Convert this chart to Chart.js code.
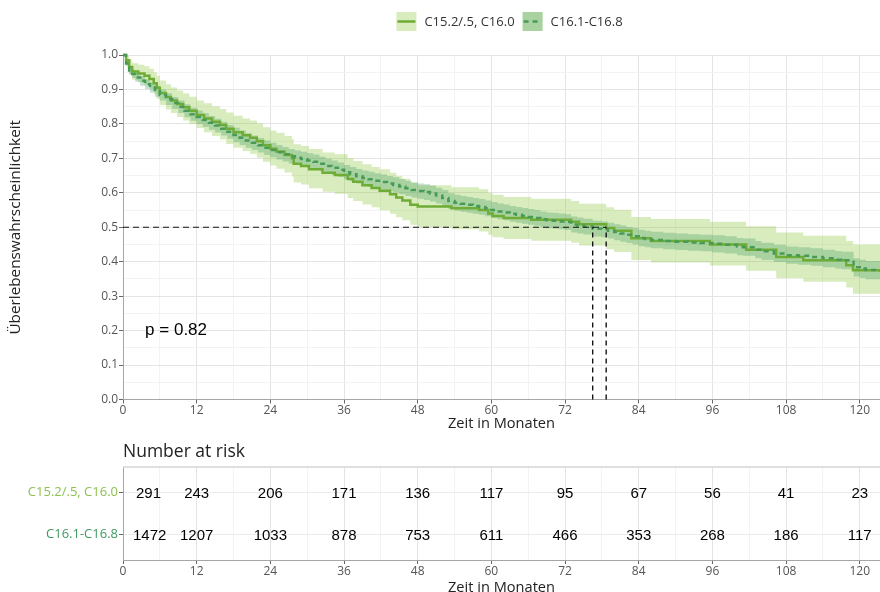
<!DOCTYPE html>
<html>
<head>
<meta charset="utf-8">
<title>Kaplan-Meier</title>
<script src="https://cdn.jsdelivr.net/npm/chart.js@4.4.1/dist/chart.umd.min.js"></script>
<style>
  html, body { margin: 0; padding: 0; background: #ffffff; overflow: hidden; }
  #wrap { position: relative; width: 880px; height: 592px; overflow: hidden; }
  #km { position: absolute; left: 0; top: 0; }
  #risk { position: absolute; left: 0; top: 440px; }
</style>
</head>
<body>
<div id="wrap">
  <canvas id="km" width="880" height="440"></canvas>
  <canvas id="risk" width="880" height="160"></canvas>
</div>
<script>
// ---- data -------------------------------------------------------------
const groupNames = ['C15.2/.5, C16.0', 'C16.1-C16.8'];

// Group A: C15.2/.5, C16.0 (Kaplan-Meier steps with 95% CI)
const timeA = [0, 0.5, 1.0, 1.5, 2.5, 3.5, 4.3, 5.0, 5.5, 6.0, 7.0, 7.8, 8.8, 9.8, 10.8, 12.0, 13.2, 14.5, 15.8, 16.8,
  18.0, 19.5, 20.7, 21.8, 22.8, 24.0, 25.0, 26.3, 27.5, 27.8, 29.0, 30.3, 32.5, 34.5, 36.6, 37.5, 39.0, 40.5, 41.8, 43.5,
  44.5, 45.5, 46.8, 48.0, 53.5, 58.0, 59.5, 60.2, 62.0, 66.5, 73.0, 74.3, 78.7, 80.0, 82.8, 86.0, 95.6, 101.5, 106.4, 110.8,
  117.8, 118.9, 123.3];
const survA = [1.000, 0.985, 0.965, 0.952, 0.946, 0.940, 0.930, 0.918, 0.905, 0.890, 0.878, 0.868, 0.858, 0.848, 0.838, 0.826, 0.816, 0.806, 0.797, 0.786,
  0.776, 0.767, 0.760, 0.750, 0.738, 0.728, 0.720, 0.710, 0.700, 0.684, 0.678, 0.668, 0.658, 0.652, 0.640, 0.632, 0.622, 0.614, 0.606, 0.596,
  0.586, 0.578, 0.565, 0.560, 0.555, 0.550, 0.540, 0.533, 0.527, 0.522, 0.516, 0.509, 0.498, 0.490, 0.468, 0.460, 0.450, 0.435, 0.414, 0.404,
  0.390, 0.375, 0.370];
const upperA = [1.000, 0.998, 0.986, 0.976, 0.972, 0.967, 0.960, 0.950, 0.940, 0.926, 0.915, 0.906, 0.897, 0.888, 0.879, 0.868, 0.860, 0.851, 0.843, 0.833,
  0.824, 0.816, 0.810, 0.801, 0.790, 0.781, 0.774, 0.765, 0.756, 0.741, 0.736, 0.727, 0.717, 0.712, 0.700, 0.692, 0.683, 0.675, 0.668, 0.658,
  0.649, 0.641, 0.629, 0.622, 0.616, 0.610, 0.600, 0.594, 0.588, 0.583, 0.576, 0.568, 0.558, 0.551, 0.530, 0.524, 0.516, 0.503, 0.485, 0.475,
  0.460, 0.450, 0.446];
const lowerA = [1.000, 0.971, 0.944, 0.928, 0.920, 0.913, 0.902, 0.888, 0.872, 0.855, 0.842, 0.832, 0.820, 0.810, 0.800, 0.788, 0.776, 0.765, 0.755, 0.742,
  0.731, 0.721, 0.713, 0.702, 0.690, 0.679, 0.670, 0.659, 0.647, 0.630, 0.624, 0.613, 0.603, 0.597, 0.585, 0.576, 0.566, 0.558, 0.549, 0.539,
  0.529, 0.520, 0.507, 0.500, 0.494, 0.488, 0.478, 0.471, 0.466, 0.461, 0.455, 0.447, 0.436, 0.428, 0.405, 0.398, 0.389, 0.374, 0.352, 0.342,
  0.325, 0.307, 0.302];

// Group B: C16.1-C16.8
const timeB = [0, 0.5, 1.0, 1.5, 2.0, 2.8, 3.6, 4.4, 5.2, 6, 7, 8, 9, 10, 11, 12, 13, 14, 15, 16, 17, 18, 19, 20, 21, 22, 23, 24,
  25, 26, 27, 28, 29, 30, 31, 32, 33, 34, 35, 36, 37, 38, 39, 40, 41, 42, 43, 44, 45, 46, 47, 48, 49, 50, 51, 52, 53, 54,
  55, 56, 57, 58, 59, 60, 61, 62, 63, 64, 65, 66, 67, 68, 69, 70, 71, 72, 73, 74, 75, 76.5, 78, 79, 80, 81, 82, 83, 84,
  85, 86, 88, 90, 92, 94, 96, 98, 100, 101, 103, 104, 106, 108, 110, 112, 114, 116, 117, 119, 120, 121, 123.3];
const survB = [1.000, 0.975, 0.955, 0.945, 0.935, 0.925, 0.915, 0.906, 0.895, 0.884, 0.872, 0.861, 0.850, 0.838, 0.828, 0.820, 0.811, 0.803, 0.795, 0.786,
  0.777, 0.768, 0.760, 0.752, 0.745, 0.738, 0.731, 0.724, 0.718, 0.712, 0.706, 0.702, 0.698, 0.694, 0.690, 0.684, 0.678, 0.673, 0.667, 0.660,
  0.654, 0.648, 0.643, 0.639, 0.635, 0.631, 0.627, 0.623, 0.618, 0.613, 0.608, 0.605, 0.602, 0.598, 0.592, 0.585, 0.576, 0.571, 0.568, 0.565,
  0.562, 0.559, 0.555, 0.550, 0.546, 0.543, 0.539, 0.536, 0.533, 0.530, 0.527, 0.523, 0.520, 0.519, 0.517, 0.515, 0.508, 0.505, 0.502, 0.496,
  0.494, 0.490, 0.486, 0.482, 0.478, 0.474, 0.469, 0.466, 0.463, 0.460, 0.458, 0.456, 0.454, 0.452, 0.449, 0.444, 0.442, 0.435, 0.430, 0.424,
  0.419, 0.417, 0.414, 0.410, 0.406, 0.404, 0.384, 0.380, 0.376, 0.376];
const upperB = [1.000, 0.983, 0.966, 0.957, 0.948, 0.938, 0.929, 0.921, 0.911, 0.900, 0.889, 0.878, 0.868, 0.857, 0.847, 0.839, 0.831, 0.823, 0.815, 0.806,
  0.797, 0.789, 0.781, 0.773, 0.766, 0.759, 0.752, 0.745, 0.739, 0.733, 0.727, 0.723, 0.719, 0.715, 0.711, 0.705, 0.699, 0.694, 0.688, 0.681,
  0.675, 0.669, 0.665, 0.661, 0.657, 0.653, 0.649, 0.645, 0.640, 0.635, 0.630, 0.627, 0.625, 0.621, 0.615, 0.608, 0.599, 0.594, 0.591, 0.588,
  0.585, 0.582, 0.578, 0.573, 0.569, 0.566, 0.562, 0.559, 0.556, 0.553, 0.550, 0.546, 0.543, 0.542, 0.540, 0.538, 0.531, 0.528, 0.525, 0.519,
  0.517, 0.513, 0.509, 0.505, 0.501, 0.498, 0.493, 0.490, 0.487, 0.484, 0.482, 0.480, 0.478, 0.477, 0.474, 0.469, 0.467, 0.460, 0.455, 0.449,
  0.444, 0.442, 0.439, 0.435, 0.431, 0.429, 0.410, 0.406, 0.402, 0.402];
const lowerB = [1.000, 0.967, 0.944, 0.933, 0.922, 0.911, 0.901, 0.891, 0.879, 0.868, 0.855, 0.843, 0.832, 0.819, 0.809, 0.800, 0.791, 0.783, 0.775, 0.766,
  0.757, 0.747, 0.739, 0.731, 0.724, 0.717, 0.710, 0.703, 0.697, 0.691, 0.685, 0.681, 0.677, 0.673, 0.669, 0.663, 0.657, 0.652, 0.646, 0.639,
  0.633, 0.627, 0.621, 0.617, 0.613, 0.609, 0.605, 0.601, 0.596, 0.591, 0.586, 0.583, 0.579, 0.575, 0.569, 0.562, 0.553, 0.548, 0.545, 0.542,
  0.539, 0.536, 0.532, 0.527, 0.523, 0.520, 0.516, 0.513, 0.510, 0.507, 0.504, 0.500, 0.497, 0.496, 0.494, 0.492, 0.485, 0.482, 0.479, 0.473,
  0.471, 0.467, 0.462, 0.458, 0.454, 0.450, 0.445, 0.442, 0.439, 0.436, 0.434, 0.432, 0.430, 0.427, 0.424, 0.419, 0.417, 0.410, 0.405, 0.399,
  0.394, 0.391, 0.388, 0.384, 0.380, 0.378, 0.357, 0.353, 0.349, 0.349];

// Median survival times (months) and log-rank p-value
const medianA = 78.7;
const medianB = 76.5;
const pValueText = 'p = 0.82';

// Number at risk table
const riskTimes = [0, 12, 24, 36, 48, 60, 72, 84, 96, 108, 120];
const riskA = [291, 243, 206, 171, 136, 117, 95, 67, 56, 41, 23];
const riskB = [1472, 1207, 1033, 878, 753, 611, 466, 353, 268, 186, 117];

// Axis texts
const xTitle = 'Zeit in Monaten';
const yTitle = 'Überlebenswahrscheinlichkeit';
const riskTitle = 'Number at risk';

// ---- styling -----------------------------------------------------------
const colA = '#6fac36';
const colB = '#489b57';
const labelColA = '#8cc152';
const labelColB = '#3f9a62';
const bandA = 'rgba(141, 198, 63, 0.34)';
const bandB = 'rgba(58, 150, 95, 0.30)';
const gridMajor = '#e4e4e4';
const gridMinor = '#f3f3f3';
const axisGrey = '#a6a6a6';
const tickGrey = '#666666';
const X_MAX = 123.3;

Chart.defaults.font.family = '"Open Sans", "DejaVu Sans", sans-serif';
Chart.defaults.color = '#555555';

const pts = (xs, ys) => xs.map((t, i) => ({ x: t, y: ys[i] }));
const isMajorX = v => Math.abs(v % 12) < 1e-6;
const isMajorY = v => Math.abs(v * 10 - Math.round(v * 10)) < 1e-6;

function xAxis(height, titleBottom) {
  return {
    type: 'linear', min: 0, max: X_MAX,
    afterFit: s => { s.height = height; },
    ticks: {
      stepSize: 6, includeBounds: false, autoSkip: false, maxRotation: 0, padding: 0,
      color: '#555555', font: { size: 12 },
      callback: v => (isMajorX(v) ? String(v) : '')
    },
    grid: {
      color: c => (isMajorX(c.tick.value) ? gridMajor : gridMinor),
      tickColor: c => (isMajorX(c.tick.value) ? tickGrey : 'rgba(0,0,0,0)'),
      tickLength: 4, lineWidth: 1
    },
    border: { display: true, color: axisGrey, width: 1 },
    title: {
      display: true, text: xTitle, color: '#222222',
      font: { size: 14.6 }, padding: { top: 0, bottom: titleBottom }
    }
  };
}

// ---- survival plot -----------------------------------------------------
const kmDecor = {
  id: 'kmDecor',
  afterDraw(chart) {
    const { ctx, scales: { x, y } } = chart;
    ctx.save();
    // p-value
    ctx.font = '17px "Liberation Sans", Arial, sans-serif';
    ctx.fillStyle = '#000000';
    ctx.textAlign = 'left';
    ctx.textBaseline = 'middle';
    ctx.fillText(pValueText, x.getPixelForValue(3.6), y.getPixelForValue(0.2));

    // legend
    ctx.font = '13px "Open Sans", sans-serif';
    const box = 20, gapText = 8, gapItem = 8;
    const items = [
      { name: groupNames[0], bg: bandA, line: colA, dash: [] },
      { name: groupNames[1], bg: bandB, line: colB, dash: [5, 4] }
    ];
    let total = 0;
    items.forEach((it, i) => {
      it.w = ctx.measureText(it.name).width;
      total += box + gapText + it.w + (i ? gapItem : 0);
    });
    let lx = 509.5 - total / 2;
    const ly = 21.5;
    items.forEach((it, i) => {
      if (i) lx += gapItem;
      if (i) {
        ctx.fillStyle = bandA;
        ctx.fillRect(lx, ly - 9.5, box, 19);
      }
      ctx.fillStyle = it.bg;
      ctx.fillRect(lx, ly - 9.5, box, 19);
      ctx.strokeStyle = it.line;
      ctx.lineWidth = 2.5;
      ctx.setLineDash(it.dash);
      ctx.beginPath();
      ctx.moveTo(lx + 1, ly);
      ctx.lineTo(lx + box - 1, ly);
      ctx.stroke();
      ctx.setLineDash([]);
      ctx.fillStyle = '#333333';
      ctx.fillText(it.name, lx + box + gapText, ly + 0.5);
      lx += box + gapText + it.w;
    });
    ctx.restore();
  }
};

const medianH = Math.max(medianA, medianB);

new Chart(document.getElementById('km'), {
  type: 'line',
  data: {
    datasets: [
      { data: pts(timeA, upperA), stepped: true, fill: '+1', backgroundColor: bandA,
        borderColor: 'rgba(0,0,0,0)', borderWidth: 0, pointRadius: 0, order: 6 },
      { data: pts(timeA, lowerA), stepped: true, fill: false,
        borderColor: 'rgba(0,0,0,0)', borderWidth: 0, pointRadius: 0, order: 5 },
      { data: pts(timeB, upperB), stepped: true, fill: '+1', backgroundColor: bandB,
        borderColor: 'rgba(0,0,0,0)', borderWidth: 0, pointRadius: 0, order: 4 },
      { data: pts(timeB, lowerB), stepped: true, fill: false,
        borderColor: 'rgba(0,0,0,0)', borderWidth: 0, pointRadius: 0, order: 3 },
      { label: groupNames[0], data: pts(timeA, survA), stepped: true, fill: false,
        borderColor: colA, borderWidth: 2.5, pointRadius: 0, order: 2 },
      { label: groupNames[1], data: pts(timeB, survB), stepped: true, fill: false,
        borderColor: colB, borderWidth: 2.5, borderDash: [5, 4], pointRadius: 0, order: 1 },
      { data: [{ x: 0, y: 0.5 }, { x: medianH, y: 0.5 }], borderColor: '#111111', borderWidth: 1.2,
        borderDash: [6, 4], pointRadius: 0, fill: false, order: 0 },
      { data: [{ x: medianA, y: 0 }, { x: medianA, y: 0.5 }], borderColor: '#111111', borderWidth: 1.4,
        borderDash: [5, 4], pointRadius: 0, fill: false, order: 0 },
      { data: [{ x: medianB, y: 0 }, { x: medianB, y: 0.5 }], borderColor: '#111111', borderWidth: 1.4,
        borderDash: [5, 4], pointRadius: 0, fill: false, order: 0 }
    ]
  },
  options: {
    responsive: false, animation: false, devicePixelRatio: 1,
    layout: { padding: { top: 55, right: 0, left: 0, bottom: 0 } },
    datasets: { line: { clip: 3 } },
    plugins: { legend: { display: false }, tooltip: { enabled: false } },
    scales: {
      x: xAxis(40.5, 7.5),
      y: {
        type: 'linear', min: 0, max: 1,
        afterFit: s => { s.width = 123; },
        ticks: {
          stepSize: 0.05, includeBounds: false, autoSkip: false, padding: 1,
          color: '#555555', font: { size: 12 },
          callback: v => (isMajorY(v) ? v.toFixed(1) : '')
        },
        grid: {
          color: c => (isMajorY(c.tick.value) ? gridMajor : gridMinor),
          tickColor: c => (isMajorY(c.tick.value) ? tickGrey : 'rgba(0,0,0,0)'),
          tickLength: 4
        },
        border: { display: true, color: axisGrey, width: 1 },
        title: {
          display: true, text: yTitle, color: '#222222',
          font: { size: 15.3 }, padding: { top: 6, bottom: 0 }
        }
      }
    }
  },
  plugins: [kmDecor]
});

// ---- number-at-risk table ---------------------------------------------
const riskDecor = {
  id: 'riskDecor',
  afterDraw(chart) {
    const { ctx, chartArea } = chart;
    ctx.save();
    // top frame line
    ctx.strokeStyle = '#d6d6d6';
    ctx.lineWidth = 1.5;
    ctx.beginPath();
    ctx.moveTo(chartArea.left, chartArea.top);
    ctx.lineTo(chartArea.right, chartArea.top);
    ctx.stroke();
    // title
    ctx.font = '17.5px "Open Sans", sans-serif';
    ctx.fillStyle = '#222222';
    ctx.textAlign = 'left';
    ctx.textBaseline = 'middle';
    ctx.fillText(riskTitle, chartArea.left, 12);
    // counts, placed at each dataset point
    ctx.font = '15px "Liberation Sans", Arial, sans-serif';
    ctx.fillStyle = '#000000';
    ctx.textAlign = 'center';
    chart.data.datasets.forEach((ds, di) => {
      const meta = chart.getDatasetMeta(di);
      meta.data.forEach((el, i) => {
        const txt = String(ds.data[i].n);
        const w = ctx.measureText(txt).width;
        const cx = Math.max(el.x, chartArea.left + 10 + w / 2 + (txt.length < 4 ? 3 : 0));
        ctx.fillText(txt, cx, el.y + 1);
      });
    });
    ctx.restore();
  }
};

new Chart(document.getElementById('risk'), {
  type: 'scatter',
  data: {
    datasets: [
      { data: riskTimes.map((t, i) => ({ x: t, y: 2, n: riskA[i] })), pointRadius: 0 },
      { data: riskTimes.map((t, i) => ({ x: t, y: 1, n: riskB[i] })), pointRadius: 0 }
    ]
  },
  options: {
    responsive: false, animation: false, devicePixelRatio: 1,
    layout: { padding: { top: 27, right: 0, left: 0, bottom: 0 } },
    plugins: { legend: { display: false }, tooltip: { enabled: false } },
    scales: {
      x: xAxis(40, 3.5),
      y: {
        type: 'linear', min: 0.4, max: 2.6,
        afterFit: s => { s.width = 123; },
        afterBuildTicks: s => { s.ticks = [{ value: 1 }, { value: 2 }]; },
        ticks: {
          autoSkip: false, padding: 1, font: { size: 13 },
          color: c => (c.tick && c.tick.value === 2 ? labelColA : labelColB),
          callback: v => (v === 2 ? groupNames[0] : groupNames[1])
        },
        grid: { color: '#ebebeb', tickColor: tickGrey, tickLength: 4 },
        border: { display: true, color: axisGrey, width: 1 }
      }
    }
  },
  plugins: [riskDecor]
});
</script>
</body>
</html>
